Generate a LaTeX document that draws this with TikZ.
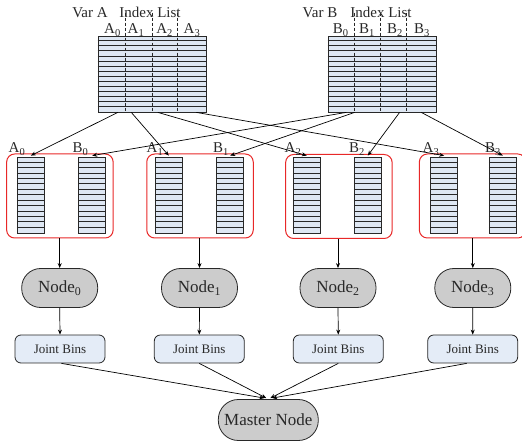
\documentclass[tikz,border=0pt]{standalone}
\usepackage{fontspec}
\setmainfont{Liberation Serif}
\usetikzlibrary{arrows.meta}
\definecolor{cellblue}{RGB}{222,231,243}
\definecolor{nodegray}{RGB}{204,204,204}
\definecolor{binblue}{RGB}{228,236,247}
\definecolor{boxred}{RGB}{232,40,40}
\definecolor{ink}{RGB}{40,40,40}
\begin{document}
\begin{tikzpicture}[x=1pt,y=-1pt,
  lbl/.style={font=\fontsize{15}{18}\selectfont, text=ink, inner sep=0pt, anchor=base},
  bigarr/.style={draw=ink, fill=cellblue, line width=0.8pt, minimum width=108pt, minimum height=76pt, inner sep=0pt},
  col/.style={draw=ink, fill=cellblue, line width=0.8pt, minimum width=27pt, minimum height=76pt, inner sep=0pt},
  group/.style={draw=boxred, line width=1pt, rounded corners=8pt, minimum width=106.5pt, minimum height=84pt, inner sep=0pt},
  worker/.style={draw=ink, fill=nodegray, line width=0.8pt, rounded corners=19pt, minimum width=76pt, minimum height=39pt, inner sep=0pt, font=\fontsize{17}{20}\selectfont, text=ink},
  bins/.style={draw=ink, fill=binblue, line width=0.8pt, rounded corners=6pt, minimum width=90pt, minimum height=28pt, inner sep=0pt, font=\fontsize{13}{16}\selectfont, text=ink},
  rowline/.style={draw=ink, line width=0.7pt},
  divider/.style={draw=ink, line width=0.6pt, dash pattern=on 3pt off 2pt},
  link/.style={draw=black, line width=0.7pt, -{Stealth[length=5pt,width=4pt]}},
  ]
\useasboundingbox (0,0) rectangle (522,443);

% ---- source arrays with their index lists ----
\node[bigarr] (VA) at (152,74) {};
\node[bigarr] (VB) at (382,74) {};
\foreach \v in {VA,VB}
  \foreach \i in {1,...,14}
    \draw[rowline] ([yshift={-\i*76/15}]\v.north west) -- ([yshift={-\i*76/15}]\v.north east);
\foreach \dx in {28,54.7,80}{
  \draw[divider] ([xshift=\dx]VA.north west) ++(0,-23) -- ([xshift=\dx]VA.south west);
  \draw[divider] ([xshift=\dx+-1.7]VB.north west) ++(0,-23) -- ([xshift=\dx+-1.7]VB.south west);
}
\node[lbl] (varA) at (90,18) {Var A};
\node[lbl] (idxA) at (150,18) {Index List};
\node[lbl] (varB) at (320,18) {Var B};
\node[lbl] (idxB) at (381,18) {Index List};
\node[lbl] (ta0) at (112.5,34) {A\textsubscript{0}};
\node[lbl] (ta1) at (136,34) {A\textsubscript{1}};
\node[lbl] (ta2) at (164.7,34) {A\textsubscript{2}};
\node[lbl] (ta3) at (192,34) {A\textsubscript{3}};
\node[lbl] (tb0) at (340.8,34) {B\textsubscript{0}};
\node[lbl] (tb1) at (367,34) {B\textsubscript{1}};
\node[lbl] (tb2) at (395,34) {B\textsubscript{2}};
\node[lbl] (tb3) at (422,34) {B\textsubscript{3}};

% ---- partition groups ----
\node[group] (g0) at (59.9,196) {};
\node[group] (g1) at (200,196) {};
\node[group] (g2) at (338.9,196.5) {};
\node[group] (g3) at (472.6,196) {};

\node[col] (a0) at (30.8,195) {};
\node[col] (b0) at (92.2,195) {};
\node[col] (a1) at (168.8,195) {};
\node[col] (b1) at (230.2,195) {};
\node[col] (a2) at (306.8,195) {};
\node[col] (b2) at (367.8,195) {};
\node[col] (a3) at (444.2,195) {};
\node[col] (b3) at (502.8,195) {};
\foreach \c in {a0,a1,a2,a3,b0,b1,b2,b3}
  \foreach \i in {1,...,13}
    \draw[rowline] ([yshift={-\i*76/14}]\c.north west) -- ([yshift={-\i*76/14}]\c.north east);

\node[lbl] (la0) at (17,153) {A\textsubscript{0}};
\node[lbl] (lb0) at (80.5,153) {B\textsubscript{0}};
\node[lbl] (la1) at (155,153) {A\textsubscript{1}};
\node[lbl] (lb1) at (221,153) {B\textsubscript{1}};
\node[lbl] (la2) at (293,153) {A\textsubscript{2}};
\node[lbl] (lb2) at (357,153) {B\textsubscript{2}};
\node[lbl] (la3) at (431,153) {A\textsubscript{3}};
\node[lbl] (lb3) at (493,153) {B\textsubscript{3}};

% ---- distribution of index ranges ----
\coordinate (sa0) at ([xshift=20.3]VA.south west);
\coordinate (sa1) at ([xshift=33.7]VA.south west);
\coordinate (sa2) at ([xshift=60.3]VA.south west);
\coordinate (sa3) at ([xshift=98.7]VA.south west);
\coordinate (sb0) at ([xshift=18.7]VB.south west);
\coordinate (sb1) at ([xshift=27]VB.south west);
\coordinate (sb2) at ([xshift=72]VB.south west);
\coordinate (sb3) at ([xshift=93.7]VB.south west);
\foreach \k in {0,1,2,3}{
  \draw[link] (sa\k) -- ([yshift=1]a\k.north);
  \draw[link] (sb\k) -- ([yshift=1]b\k.north);
}

% ---- compute nodes and result collection ----
\node[worker] (n0) at (59.7,288) {Node\textsubscript{0}};
\node[worker] (n1) at (199.5,288) {Node\textsubscript{1}};
\node[worker] (n2) at (338,288) {Node\textsubscript{2}};
\node[worker] (n3) at (472.8,288) {Node\textsubscript{3}};
\node[bins] (j0) at (60,349) {Joint Bins};
\node[bins] (j1) at (199.3,349) {Joint Bins};
\node[bins] (j2) at (338.3,349) {Joint Bins};
\node[bins] (j3) at (472.7,349) {Joint Bins};
\node[worker, minimum width=100pt, minimum height=41pt, rounded corners=20pt] (master) at (268.3,420) {Master Node};

\draw[link] (g0.south -| n0) -- (n0.north);
\draw[link] (g1.south -| n1) -- (n1.north);
\draw[link] (g2.south -| n2) -- (n2.north);
\draw[link] (g3.south -| n3) -- (n3.north);
\foreach \k in {0,1,2,3}
  \draw[link] (n\k.south) -- (j\k.north);

\draw[link] ([xshift=1.5]j0.south) -- ([xshift=-4,yshift=1]master.north);
\draw[link] (j1.south) -- ([xshift=-2,yshift=1]master.north);
\draw[link] (j2.south) -- ([xshift=2,yshift=1]master.north);
\draw[link] ([xshift=-6]j3.south) -- ([xshift=4,yshift=1]master.north);
\end{tikzpicture}
\end{document}
